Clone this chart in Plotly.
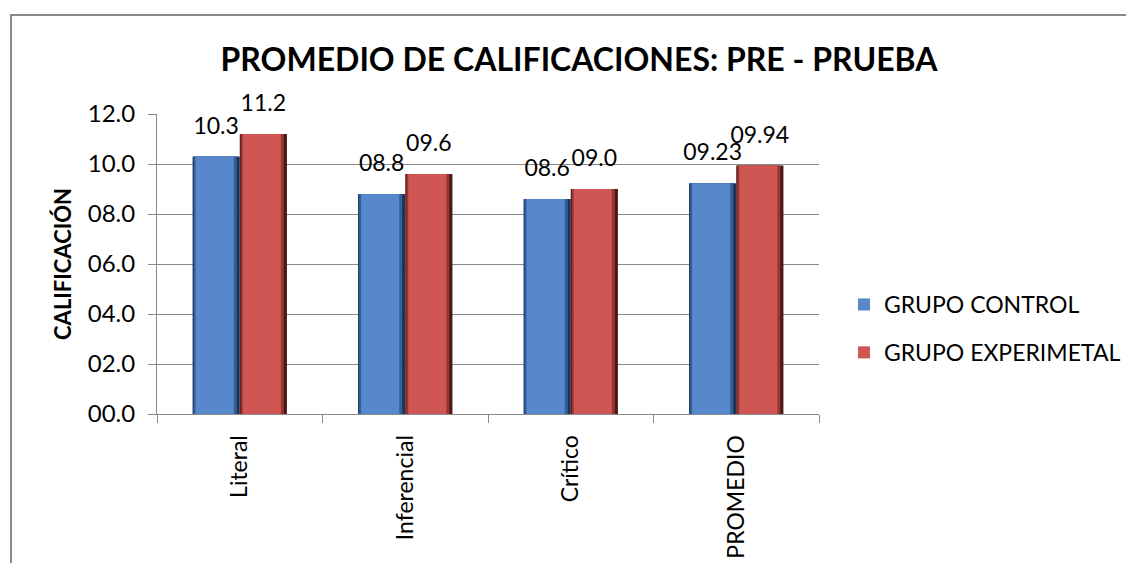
import plotly.graph_objects as go

categories = ["Literal", "Inferencial", "Crítico", "PROMEDIO"]
control = [10.3, 8.8, 8.6, 9.23]
experimental = [11.2, 9.6, 9.0, 9.94]
control_labels = ["10.3", "08.8", "08.6", "09.23"]
experimental_labels = ["11.2", "09.6", "09.0", "09.94"]

FONT = "Lato, 'Noto Sans', sans-serif"
W, H = 1134, 563
# page body adds an 8px offset; positions below are compensated
L, T = 149, 106
PW, PH = 662, 300
R, B = W - L - PW, H - T - PH
px = 1.0 / 165.0  # one pixel in category units

xpos = list(range(len(categories)))

fig = go.Figure()

bw = 0.285
series = [
    ("GRUPO CONTROL", control, control_labels, -bw,
     ["#1c3355", "#345f9c", "#5788cb"]),
    ("GRUPO EXPERIMETAL", experimental, experimental_labels, 0.0,
     ["#4a1716", "#973532", "#d05653"]),
]

for name, vals, labels, off, cols in series:
    fig.add_trace(go.Bar(x=xpos, y=vals, width=bw, offset=off,
                         marker=dict(color=cols[0], line=dict(width=0)),
                         showlegend=False, hoverinfo="skip"))
    fig.add_trace(go.Bar(x=xpos, y=vals, width=bw - 4 * px, offset=off + 1 * px,
                         marker=dict(color=cols[1], line=dict(width=0)),
                         showlegend=False, hoverinfo="skip"))
    fig.add_trace(go.Bar(x=xpos, y=vals, width=bw - 9 * px, offset=off + 3 * px,
                         marker=dict(color=cols[2], line=dict(width=0)),
                         name=name, legendgroup=name, showlegend=True,
                         hoverinfo="skip"))
    # value labels centred above each bar
    fig.add_trace(go.Scatter(x=[p + off + bw / 2 for p in xpos], y=vals,
                             mode="markers+text", text=labels,
                             textposition="top center",
                             marker=dict(size=26, color="rgba(0,0,0,0)"),
                             textfont=dict(family=FONT, size=23, color="#000000"),
                             cliponaxis=False, showlegend=False, hoverinfo="skip"))

fig.update_layout(
    width=W, height=H,
    margin=dict(l=L, r=R, t=T, b=B),
    paper_bgcolor="white", plot_bgcolor="white",
    barmode="overlay",
    font=dict(family=FONT, color="#000000"),
    title=dict(text="<b>PROMEDIO DE CALIFICACIONES: PRE - PRUEBA</b>",
               x=571 / W, xanchor="center", y=1 - 52 / H, yanchor="middle",
               font=dict(family=FONT, size=32, color="#000000")),
    legend=dict(x=(836 - L) / PW, xanchor="left", y=1 - (275 - T) / PH, yanchor="top",
                font=dict(family=FONT, size=23, color="#000000"),
                traceorder="grouped", tracegroupgap=15,
                bgcolor="rgba(0,0,0,0)"),
    showlegend=True,
)

fig.update_yaxes(range=[0, 12], dtick=2, tick0=0, tickformat="04.1f",
                 showgrid=True, gridcolor="#8a8a8a", gridwidth=1,
                 showline=True, linecolor="#8a8a8a", linewidth=1,
                 ticks="outside", ticklen=8, tickcolor="#8a8a8a",
                 ticklabelstandoff=8,
                 tickfont=dict(family=FONT, size=24, color="#000000"),
                 zeroline=False,
                 title=dict(text="<b>CALIFICACIÓN</b>", standoff=10,
                            font=dict(family=FONT, size=22, color="#000000")))
fig.update_xaxes(range=[-0.5, len(categories) - 0.5], showgrid=False, zeroline=False,
                 showline=True, linecolor="#8a8a8a", linewidth=1,
                 tickvals=xpos, ticktext=categories, ticks="",
                 minor=dict(tickvals=[p - 0.5 for p in xpos] + [xpos[-1] + 0.5],
                            ticks="outside", ticklen=8, tickcolor="#8a8a8a", showgrid=False),
                 tickangle=-90, ticklabelstandoff=11,
                 tickfont=dict(family=FONT, size=23, color="#000000"))

# chart area border (decoration)
fig.add_shape(type="rect", xref="paper", yref="paper",
              x0=(3 - L) / PW, x1=(W + 5 - L) / PW,
              y0=-(H + 5 - T - PH) / PH, y1=1 + (T - 7) / PH,
              line=dict(color="#8a8a8a", width=2), fillcolor="rgba(0,0,0,0)", layer="below")

fig.write_html("out.html")
